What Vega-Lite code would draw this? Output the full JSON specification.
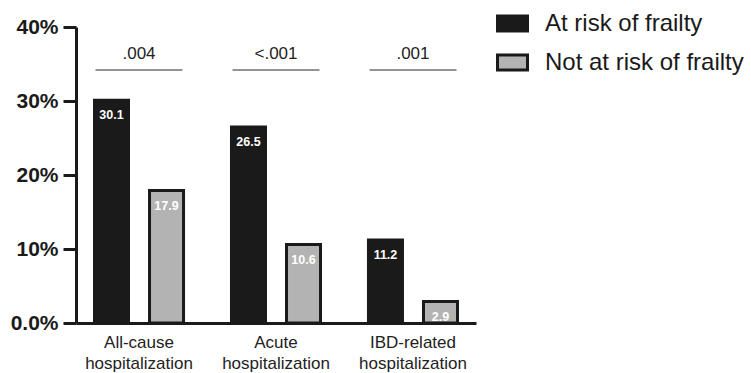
{
  "$schema": "https://vega.github.io/schema/vega-lite/v6.json",
  "width": 400,
  "height": 296,
  "autosize": {"type": "none"},
  "padding": {"left": 76, "top": 27, "right": 275, "bottom": 50},
  "config": {"view": {"stroke": null}, "font": "Liberation Sans"},
  "datasets": {
    "rates": [
      {"group": "All-cause hospitalization", "status": "At risk of frailty", "value": 30.1},
      {"group": "All-cause hospitalization", "status": "Not at risk of frailty", "value": 17.9},
      {"group": "Acute hospitalization", "status": "At risk of frailty", "value": 26.5},
      {"group": "Acute hospitalization", "status": "Not at risk of frailty", "value": 10.6},
      {"group": "IBD-related hospitalization", "status": "At risk of frailty", "value": 11.2},
      {"group": "IBD-related hospitalization", "status": "Not at risk of frailty", "value": 2.9}
    ],
    "pvals": [
      {"group": "All-cause hospitalization", "p": ".004"},
      {"group": "Acute hospitalization", "p": "<.001"},
      {"group": "IBD-related hospitalization", "p": ".001"}
    ]
  },
  "layer": [
    {
      "data": {"name": "rates"},
      "mark": {"type": "bar", "stroke": "#1a1a1a", "strokeWidth": 3},
      "encoding": {
        "x": {
          "field": "group", "type": "nominal",
          "scale": {"domain": ["All-cause hospitalization", "Acute hospitalization", "IBD-related hospitalization"], "paddingInner": 0.35, "paddingOuter": 0.135},
          "axis": {
            "title": null, "labelAngle": 0, "ticks": false,
            "domainWidth": 3, "domainColor": "#1a1a1a",
            "labelFontSize": 17, "labelColor": "#222222", "labelPadding": 11,
            "labelLineHeight": 21, "labelLimit": 300,
            "labelExpr": "split(datum.label, ' ')"
          }
        },
        "xOffset": {
          "field": "status", "type": "nominal",
          "scale": {"domain": ["At risk of frailty", "Not at risk of frailty"], "paddingInner": 0.382, "paddingOuter": 0}
        },
        "y": {
          "field": "value", "type": "quantitative",
          "scale": {"domain": [0, 40], "nice": false},
          "axis": {
            "title": null, "values": [0, 10, 20, 30, 40], "grid": false,
            "labelExpr": "datum.value == 0 ? '0.0%' : datum.value + '%'",
            "labelFontSize": 21, "labelFontWeight": "bold", "labelColor": "#1a1a1a",
            "labelPadding": 5, "tickSize": 13, "tickWidth": 3, "tickColor": "#1a1a1a",
            "domainWidth": 3, "domainColor": "#1a1a1a"
          }
        },
        "fill": {
          "field": "status", "type": "nominal",
          "scale": {"domain": ["At risk of frailty", "Not at risk of frailty"], "range": ["#1a1a1a", "#b3b3b3"]},
          "legend": {
            "title": null, "orient": "none", "legendX": 420, "legendY": -20,
            "padding": 0, "labelFontSize": 24, "labelColor": "#1a1a1a",
            "labelOffset": 16, "rowPadding": 9, "labelLimit": 400,
            "symbolType": "M-1,-0.5H1V0.5H-1Z", "symbolSize": 900,
            "symbolStrokeColor": "#1a1a1a", "symbolStrokeWidth": 3, "symbolOpacity": 1
          }
        }
      }
    },
    {
      "data": {"name": "rates"},
      "mark": {"type": "text", "baseline": "middle", "dy": 15, "fontSize": 12.5, "fontWeight": "bold", "color": "#ffffff"},
      "encoding": {
        "x": {"field": "group", "type": "nominal"},
        "xOffset": {"field": "status", "type": "nominal"},
        "y": {"field": "value", "type": "quantitative"},
        "text": {"field": "value", "type": "quantitative", "format": ".1f"}
      }
    },
    {
      "data": {"name": "pvals"},
      "mark": {"type": "tick", "orient": "horizontal", "size": 87, "thickness": 1.5, "color": "#333333"},
      "encoding": {
        "x": {"field": "group", "type": "nominal"},
        "y": {"datum": 34.2, "type": "quantitative"}
      }
    },
    {
      "data": {"name": "pvals"},
      "mark": {"type": "text", "baseline": "middle", "fontSize": 17, "color": "#222222"},
      "encoding": {
        "x": {"field": "group", "type": "nominal"},
        "y": {"datum": 36.4, "type": "quantitative"},
        "text": {"field": "p", "type": "nominal"}
      }
    }
  ]
}
